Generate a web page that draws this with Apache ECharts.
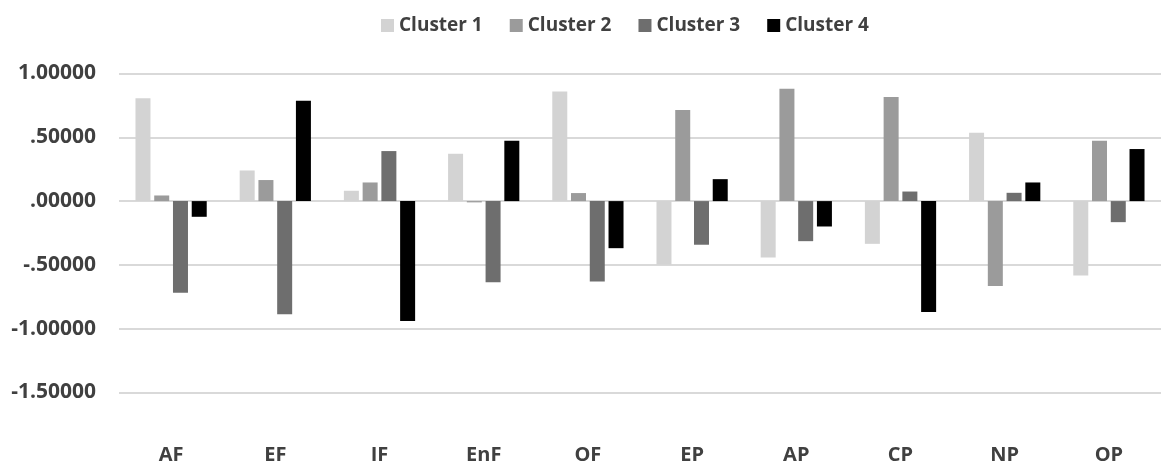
<!DOCTYPE html>
<html>
<head>
<meta charset="utf-8">
<script src="https://cdn.jsdelivr.net/npm/echarts@6/dist/echarts.min.js"></script>
<style>
  html, body { margin: 0; padding: 0; background: #fff; }
  #chart { width: 1162px; height: 469px; }
</style>
</head>
<body>
<div id="chart"></div>
<script>
// categories and cluster centres
var categories = ['AF', 'EF', 'IF', 'EnF', 'OF', 'EP', 'AP', 'CP', 'NP', 'OP'];
var cluster1 = [0.807, 0.240, 0.081, 0.371, 0.859, -0.497, -0.442, -0.335, 0.535, -0.583];
var cluster2 = [0.044, 0.165, 0.146, -0.010, 0.063, 0.713, 0.880, 0.815, -0.666, 0.473];
var cluster3 = [-0.719, -0.886, 0.392, -0.635, -0.630, -0.342, -0.314, 0.075, 0.065, -0.165];
var cluster4 = [-0.123, 0.786, -0.940, 0.473, -0.369, 0.172, -0.199, -0.870, 0.146, 0.408];
var seriesNames = ['Cluster 1', 'Cluster 2', 'Cluster 3', 'Cluster 4'];
var seriesColors = ['#d3d3d3', '#9b9b9b', '#6e6e6e', '#000000'];

var textColor = '#404040';
var font = '"Open Sans", sans-serif';

function fmt(v) {
    // excel style: 1.00000, .50000, -.50000
    return v.toFixed(5).replace(/^(-?)0\./, '$1.');
}

var allData = [cluster1, cluster2, cluster3, cluster4];
var series = [];
for (var i = 0; i < allData.length; i++) {
    series.push({
        name: seriesNames[i],
        type: 'bar',
        data: allData[i],
        barWidth: 15,
        barGap: '25%',
        itemStyle: { color: seriesColors[i] }
    });
}

var myChart = echarts.init(document.getElementById('chart'));
myChart.setOption({
    animation: false,
    backgroundColor: '#ffffff',
    color: seriesColors,
    legend: {
        data: seriesNames,
        left: 376,
        top: 11,
        itemWidth: 13,
        itemHeight: 13,
        itemGap: 27,
        icon: 'rect',
        textStyle: { color: textColor, fontSize: 19, fontWeight: 'bold', fontFamily: font }
    },
    grid: { left: 119, right: 1, top: 73.5, bottom: 76.5, containLabel: false },
    xAxis: {
        type: 'category',
        data: categories,
        position: 'bottom',
        axisLine: { show: false },
        axisTick: { show: false },
        axisLabel: {
            margin: 53,
            color: textColor,
            fontSize: 20,
            fontWeight: 'bold',
            fontFamily: font
        }
    },
    yAxis: {
        type: 'value',
        min: -1.5,
        max: 1.0,
        interval: 0.5,
        axisLine: { show: false },
        axisTick: { show: false },
        splitLine: { lineStyle: { color: '#d9d9d9', width: 2 } },
        axisLabel: {
            margin: 23,
            color: textColor,
            fontSize: 21,
            fontWeight: 'bold',
            fontFamily: font,
            formatter: fmt
        }
    },
    series: series
});
</script>
</body>
</html>
